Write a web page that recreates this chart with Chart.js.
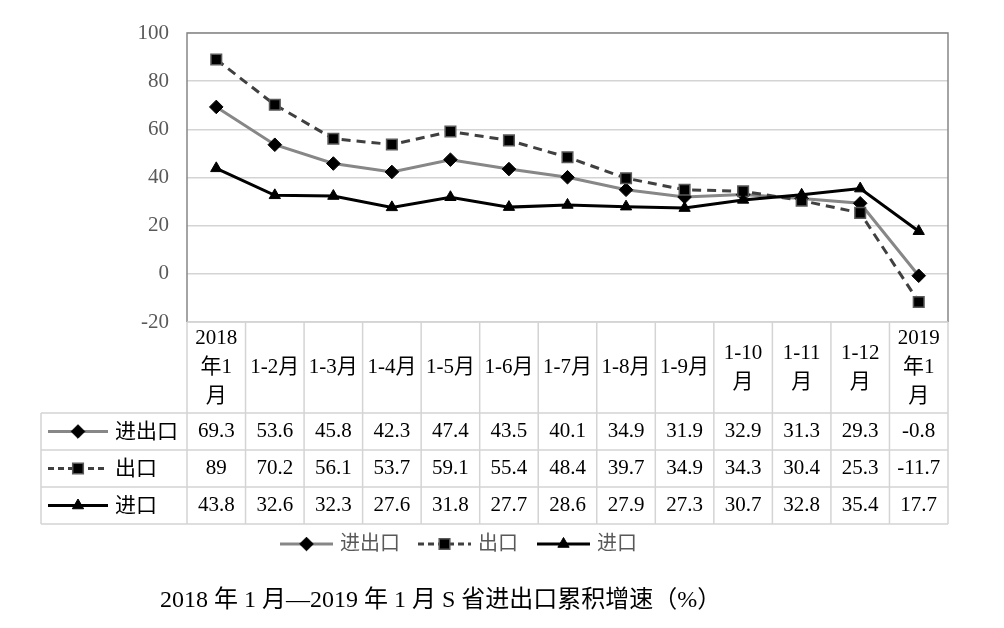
<!DOCTYPE html>
<html>
<head>
<meta charset="utf-8">
<script src="https://cdn.jsdelivr.net/npm/chart.js@4/dist/chart.umd.min.js"></script>
<style>
html, body { margin: 0; background: #fff; }
#wrap { width: 1004px; height: 628px; }
</style>
</head>
<body>
<div id="wrap"><canvas id="grafico"></canvas></div>
<script>
// categories as table header lines
const categorias = [
    ['2018', '年1', '月'], ['1-2月'], ['1-3月'], ['1-4月'], ['1-5月'], ['1-6月'],
    ['1-7月'], ['1-8月'], ['1-9月'], ['1-10', '月'], ['1-11', '月'], ['1-12', '月'],
    ['2019', '年1', '月']
]
const jinchukou = [69.3, 53.6, 45.8, 42.3, 47.4, 43.5, 40.1, 34.9, 31.9, 32.9, 31.3, 29.3, -0.8]
const chukou = [89, 70.2, 56.1, 53.7, 59.1, 55.4, 48.4, 39.7, 34.9, 34.3, 30.4, 25.3, -11.7]
const jinkou = [43.8, 32.6, 32.3, 27.6, 31.8, 27.7, 28.6, 27.9, 27.3, 30.7, 32.8, 35.4, 17.7]
const nomes = ['进出口', '出口', '进口']
const yMin = -20
const yMax = 100
const yStep = 20
const titulo = '2018 年 1 月—2019 年 1 月 S 省进出口累积增速（%）'

const FONTE = '"Liberation Serif", "Noto Sans CJK SC", serif'

const estilos = [
    { borderColor: '#878787', borderWidth: 3, borderDash: [], pointStyle: 'rectRot', pointRadius: 6.8,
      pointBackgroundColor: '#000', pointBorderColor: '#000', pointBorderWidth: 1, order: 2 },
    { borderColor: '#404040', borderWidth: 3, borderDash: [9, 6], pointStyle: 'rect', pointRadius: 7.5,
      pointBackgroundColor: '#000', pointBorderColor: '#5a5a5a', pointBorderWidth: 1.5, order: 1 },
    { borderColor: '#000', borderWidth: 3, borderDash: [], pointStyle: 'triangle', pointRadius: 6.5,
      pointBackgroundColor: '#000', pointBorderColor: '#000', pointBorderWidth: 1, order: 0 }
]
const valores = [jinchukou, chukou, jinkou]

function simbolo(ctx, est, x0, x1, y, dash) {
    ctx.save()
    ctx.strokeStyle = est.borderColor
    ctx.lineWidth = est.borderWidth
    ctx.setLineDash(est.borderDash.length ? dash : [])
    ctx.beginPath()
    ctx.moveTo(x0, y)
    ctx.lineTo(x1, y)
    ctx.stroke()
    ctx.setLineDash([])
    ctx.fillStyle = est.pointBackgroundColor
    ctx.strokeStyle = est.pointBorderColor
    ctx.lineWidth = est.pointBorderWidth
    Chart.helpers.drawPoint(ctx, { pointStyle: est.pointStyle, radius: est.pointRadius,
        borderWidth: est.pointBorderWidth, rotation: 0 }, (x0 + x1) / 2, y)
    ctx.restore()
}

const tabela = {
    id: 'tabela',
    beforeDatasetsDraw(chart) {
        const { ctx, chartArea: a } = chart
        ctx.save()
        ctx.strokeStyle = '#868686'
        ctx.lineWidth = 1.5
        ctx.beginPath()
        ctx.moveTo(a.left, a.bottom)
        ctx.lineTo(a.left, a.top)
        ctx.lineTo(a.right, a.top)
        ctx.lineTo(a.right, a.bottom)
        ctx.stroke()
        ctx.restore()
    },
    afterDraw(chart) {
        const { ctx, chartArea: a } = chart
        const x = chart.scales.x
        const colW = x.getPixelForValue(1) - x.getPixelForValue(0)
        const topo = a.bottom
        const altCab = 91
        const altLinha = 37
        const esq = 41
        const fundo = topo + altCab + altLinha * 3

        ctx.save()
        ctx.strokeStyle = '#d4d4d4'
        ctx.lineWidth = 1.5
        ctx.beginPath()
        ctx.moveTo(a.left, topo)
        ctx.lineTo(a.right, topo)
        for (let r = 0; r <= 3; r++) {
            const y = topo + altCab + altLinha * r
            ctx.moveTo(esq, y)
            ctx.lineTo(a.right, y)
        }
        for (let i = 0; i <= categorias.length; i++) {
            const xx = x.getPixelForValue(i) - colW / 2
            ctx.moveTo(xx, topo)
            ctx.lineTo(xx, fundo)
        }
        ctx.moveTo(esq, topo + altCab)
        ctx.lineTo(esq, fundo)
        ctx.stroke()

        ctx.fillStyle = '#000'
        ctx.font = '21px ' + FONTE
        ctx.textAlign = 'center'
        ctx.textBaseline = 'middle'
        const meioCab = topo + altCab / 2
        categorias.forEach((linhas, i) => {
            const cx = x.getPixelForValue(i)
            linhas.forEach((t, k) => {
                ctx.fillText(t, cx, meioCab + (k - (linhas.length - 1) / 2) * 29)
            })
        })
        valores.forEach((serie, r) => {
            const cy = topo + altCab + altLinha * (r + 0.5)
            serie.forEach((v, i) => {
                ctx.fillText(String(v), x.getPixelForValue(i), cy)
            })
            simbolo(ctx, estilos[r], 48, 108, cy, [6, 4])
            ctx.textAlign = 'left'
            ctx.fillText(nomes[r], 115, cy + 1)
            ctx.textAlign = 'center'
        })

        // legend under the table
        const ly = 544
        const posLeg = [280, 418, 537]
        ctx.font = '20px ' + FONTE
        ctx.fillStyle = '#595959'
        ctx.textAlign = 'left'
        posLeg.forEach((px, r) => {
            simbolo(ctx, estilos[r], px, px + 53, ly, [6, 4])
            ctx.fillText(nomes[r], px + 60, ly + 1)
        })

        ctx.font = '24px ' + FONTE
        ctx.fillStyle = '#000'
        ctx.fillText(titulo, 160, 601)
        ctx.restore()
    }
}

const container = document.querySelector('#grafico')
const context = container.getContext('2d')

const grafico = new Chart(context, {
    type: 'line',
    data: {
        labels: categorias,
        datasets: valores.map((serie, i) => Object.assign({
            label: nomes[i],
            data: serie,
            tension: 0,
            fill: false
        }, estilos[i]))
    },
    options: {
        responsive: true,
        maintainAspectRatio: false,
        animation: false,
        layout: { padding: { top: 33, right: 56, bottom: 306, left: 0 } },
        plugins: {
            legend: { display: false },
            tooltip: { enabled: false }
        },
        scales: {
            x: { display: false, offset: true },
            y: {
                min: yMin,
                max: yMax,
                afterFit: (s) => { s.width = 187 },
                ticks: {
                    stepSize: yStep,
                    color: '#595959',
                    padding: 18,
                    font: { family: FONTE, size: 21 }
                },
                grid: { color: '#d4d4d4', lineWidth: 1.5, drawTicks: false },
                border: { display: false }
            }
        }
    },
    plugins: [tabela]
})
</script>
</body>
</html>
